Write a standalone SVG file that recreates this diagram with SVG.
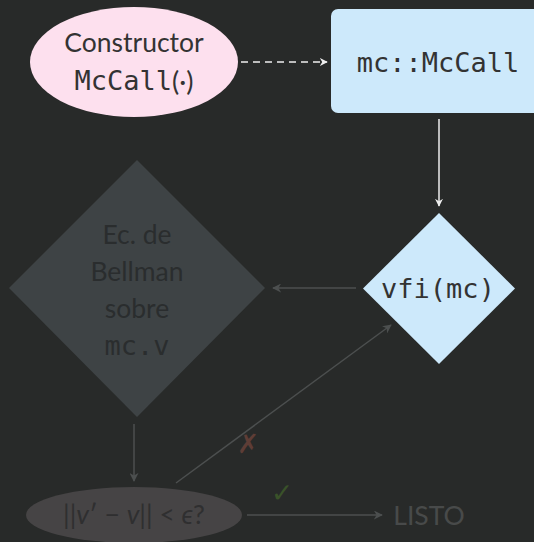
<svg xmlns="http://www.w3.org/2000/svg" width="534" height="542" viewBox="0 0 534 542">
<defs>
<style>
.lato{font-family:Lato,"Noto Sans","DejaVu Sans",sans-serif;font-size:26.5px;text-anchor:middle;dominant-baseline:central}
.mono{font-family:"DejaVu Sans Mono","Liberation Mono",monospace;font-size:27px;text-anchor:middle;dominant-baseline:central}
.edge{fill:none;stroke-width:1.5}
</style>
<marker id="aw" viewBox="0 0 10 10" refX="9" refY="5" markerWidth="8" markerHeight="8" orient="auto" markerUnits="userSpaceOnUse"><path d="M0,0 L10,5 L0,10 L3,5 z" fill="#eeeeee"/></marker>
<marker id="ag" viewBox="0 0 10 10" refX="9" refY="5" markerWidth="9" markerHeight="9" orient="auto" markerUnits="userSpaceOnUse"><path d="M0,0 L10,5 L0,10 L3,5 z" fill="#4c4f4f"/></marker>
</defs>
<rect width="534" height="542" fill="#282a29"/>
<g id="connectors">
<line class="edge" x1="241" y1="62" x2="327" y2="62" stroke="#eeeeee" stroke-dasharray="7,5" marker-end="url(#aw)"/>
<line class="edge" x1="439" y1="119" x2="439" y2="206" stroke="#eeeeee" marker-end="url(#aw)"/>
<line class="edge" x1="356" y1="288" x2="273" y2="288" stroke="#4c4f4f" marker-end="url(#ag)"/>
<line class="edge" x1="134" y1="424" x2="134" y2="481" stroke="#4c4f4f" marker-end="url(#ag)"/>
<line class="edge" x1="176" y1="483" x2="391" y2="325" stroke="#4c4f4f" marker-end="url(#ag)"/>
<line class="edge" x1="247" y1="515" x2="382" y2="515" stroke="#4c4f4f" marker-end="url(#ag)"/>
<text x="248" y="443" class="lato" font-size="24" fill="#5e3d36">✗</text>
<text x="282" y="492" class="lato" font-size="21" fill="#3a5229">✓</text>
</g>
<g id="constructor">
<ellipse cx="134" cy="62" rx="104" ry="55" fill="#fde0ee"/>
<text x="134" y="42" class="lato" fill="#333333">Constructor</text>
<text x="134" y="80" class="mono" font-size="23" fill="#333333">McCall<tspan font-family="Lato,sans-serif">(·)</tspan></text>
</g>
<g id="mccall">
<rect x="331" y="9" width="210" height="104" rx="7" fill="#cde9fb"/>
<text x="438" y="62" class="mono" fill="#333333">mc::McCall</text>
</g>
<g id="vfi">
<polygon points="439,213 515,288.5 439,364 363,288.5" fill="#cde9fb"/>
<text x="438" y="288" class="mono" font-size="28" fill="#333333">vfi(mc)</text>
</g>
<g id="bellman">
<polygon points="137,160 265,288 137,417 9,288" fill="#3e4345"/>
<text x="137" y="234" class="lato" fill="#2a2d2e">Ec. de</text>
<text x="137" y="271" class="lato" fill="#2a2d2e">Bellman</text>
<text x="137" y="308" class="lato" fill="#2a2d2e">sobre</text>
<text x="137" y="345" class="mono" fill="#2a2d2e">mc.v</text>
</g>
<g id="check">
<ellipse cx="134" cy="515" rx="108" ry="28" fill="#464445"/>
<text x="134" y="514" class="lato" font-size="27" fill="#2f2f30">||<tspan font-style="italic">v</tspan>′ − <tspan font-style="italic">v</tspan>|| &lt; <tspan font-style="italic">ϵ</tspan>?</text>
</g>
<g id="listo">
<text x="429" y="515" class="lato" fill="#484a4a">LISTO</text>
</g>
</svg>
